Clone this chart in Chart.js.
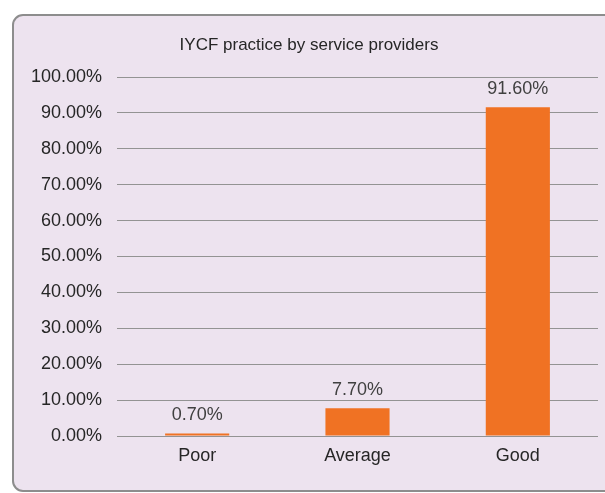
<!DOCTYPE html>
<html><head><meta charset="utf-8">
<script src="https://cdn.jsdelivr.net/npm/chart.js@4/dist/chart.umd.min.js"></script>
<style>html,body{margin:0;padding:0;background:#fff;}#wrap{width:605px;height:493px;}</style>
</head><body><div id="wrap"><canvas id="c" width="605" height="493"></canvas></div>
<script>
const titleText = "IYCF practice by service providers";
const categories = ["Poor", "Average", "Good"];
const values = [0.70, 7.70, 91.60];
const yMin = 0, yMax = 100, yStep = 10;

const FONT = "'Liberation Sans', Arial, sans-serif";

const bgPlugin = {
  id: 'bg',
  beforeDraw(chart) {
    const ctx = chart.ctx;
    ctx.save();
    ctx.fillStyle = '#ffffff';
    ctx.fillRect(0, 0, chart.width, chart.height);
    const x = 13, y = 15, w = 620, h = 476, r = 10;
    ctx.beginPath();
    ctx.moveTo(x + r, y);
    ctx.lineTo(x + w - r, y);
    ctx.arcTo(x + w, y, x + w, y + r, r);
    ctx.lineTo(x + w, y + h - r);
    ctx.arcTo(x + w, y + h, x + w - r, y + h, r);
    ctx.lineTo(x + r, y + h);
    ctx.arcTo(x, y + h, x, y + h - r, r);
    ctx.lineTo(x, y + r);
    ctx.arcTo(x, y, x + r, y, r);
    ctx.closePath();
    ctx.fillStyle = '#ede3ef';
    ctx.fill();
    ctx.lineWidth = 2;
    ctx.strokeStyle = '#8d8d8d';
    ctx.stroke();
    ctx.fillStyle = '#262626';
    ctx.font = "17px " + FONT;
    ctx.textAlign = 'center';
    ctx.textBaseline = 'middle';
    ctx.fillText(titleText, 309, 45);
    ctx.restore();
  }
};

const labelPlugin = {
  id: 'vlabels',
  afterDatasetsDraw(chart) {
    const ctx = chart.ctx;
    const meta = chart.getDatasetMeta(0);
    ctx.save();
    ctx.fillStyle = '#404040';
    ctx.font = "18px " + FONT;
    ctx.textAlign = 'center';
    ctx.textBaseline = 'alphabetic';
    meta.data.forEach((bar, i) => {
      ctx.fillText(values[i].toFixed(2) + '%', bar.x, bar.y - 13);
    });
    ctx.restore();
  }
};

new Chart(document.getElementById('c'), {
  type: 'bar',
  data: {
    labels: categories,
    datasets: [{
      data: values,
      backgroundColor: '#f07223',
      barPercentage: 0.4,
      categoryPercentage: 1.0
    }]
  },
  options: {
    responsive: false,
    animation: false,
    devicePixelRatio: 1,
    layout: { padding: { top: 77, right: 7, bottom: 0, left: 0 } },
    plugins: { legend: { display: false }, title: { display: false }, tooltip: { enabled: false } },
    scales: {
      x: {
        grid: { display: false, drawTicks: false },
        border: { display: false },
        ticks: { color: '#262626', font: { size: 18, family: FONT }, padding: 9 },
        afterFit(s) { s.height = 57; }
      },
      y: {
        min: yMin, max: yMax,
        grid: { color: '#939393', lineWidth: 1, drawTicks: false },
        border: { display: false },
        ticks: {
          stepSize: yStep,
          color: '#262626',
          font: { size: 18, family: FONT },
          padding: 15,
          callback: v => v.toFixed(2) + '%'
        },
        afterFit(s) { s.width = 117; }
      }
    }
  },
  plugins: [bgPlugin, labelPlugin]
});
</script>
</body></html>
